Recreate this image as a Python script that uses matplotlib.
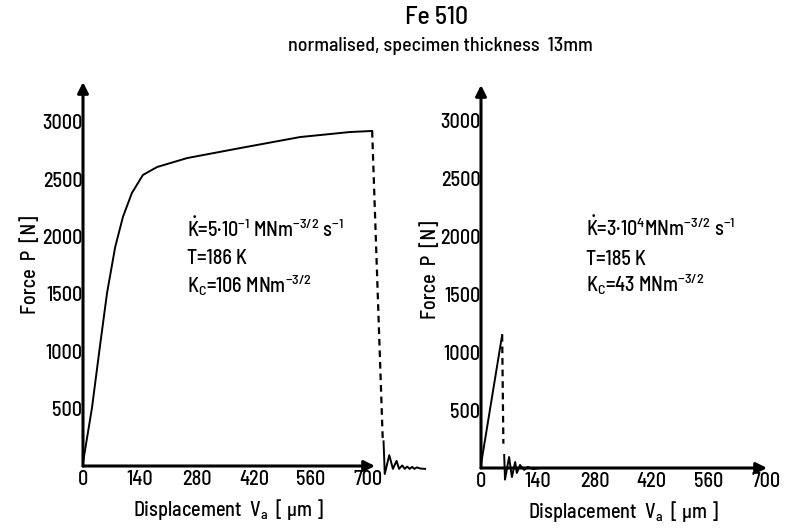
import matplotlib
matplotlib.use("Agg")
import matplotlib.pyplot as plt

FONT = "Barlow Semi Condensed"
plt.rcParams["font.family"] = [FONT, "DejaVu Sans"]
plt.rcParams["font.weight"] = 500
plt.rcParams["mathtext.fontset"] = "custom"
plt.rcParams["mathtext.rm"] = FONT + ":medium"
plt.rcParams["mathtext.it"] = FONT + ":medium"
plt.rcParams["mathtext.bf"] = FONT + ":medium"

# displacement in um, force in N
x_ticks = [0, 140, 280, 420, 560, 700]
y_ticks = [500, 1000, 1500, 2000, 2500, 3000]

left_disp = [0, 22, 42, 59, 79, 98, 120, 147, 182, 256, 386, 533, 656, 710]
left_force = [30, 506, 1055, 1508, 1909, 2171, 2380, 2537, 2607, 2685, 2772, 2868, 2912, 2921]
left_break_disp = [710, 736]
left_break_force = [2921, 230]
left_ring_disp = [738, 741, 752, 761, 770, 776, 784, 790, 796, 802, 808, 814, 820, 828, 840]
left_ring_force = [215, -70, 95, -25, 45, -25, 5, -25, -5, -25, -8, -25, -12, -22, -25]

right_disp = [0, 52]
right_force = [30, 1147]
right_break_disp = [52, 55]
right_break_force = [1147, 210]
right_ring_disp = [57, 59, 69, 76, 84, 88, 96, 106, 115, 128, 145, 177]
right_ring_force = [112, -100, 95, -78, 52, -43, 26, -17, 9, -9, 0, 0]

W, H = 787, 528
fig = plt.figure(figsize=(W / 100, H / 100), dpi=100)
FS = 14.5


def setup(ax, xmax, ymax):
    ax.set_xlim(0, xmax)
    ax.set_ylim(0, ymax)
    for s in ax.spines.values():
        s.set_visible(False)
    ax.set_xticks(x_ticks)
    ax.set_yticks(y_ticks)
    ax.tick_params(length=0, labelsize=FS)
    ax.tick_params(axis="y", pad=0.5)
    ax.tick_params(axis="x", pad=3)
    arrow = dict(arrowstyle="-|>", lw=2.2, color="k", mutation_scale=16, shrinkA=0, shrinkB=0)
    ax.annotate("", xy=(1, 0), xytext=(0, 0), xycoords="axes fraction",
                textcoords="axes fraction", arrowprops=arrow)
    ax.annotate("", xy=(0, 1), xytext=(0, 0), xycoords="axes fraction",
                textcoords="axes fraction", arrowprops=arrow)
    ax.patch.set_alpha(0)


ax1 = fig.add_axes([83 / W, 1 - 466 / H, (375 - 83) / W, (466 - 82) / H])
setup(ax1, 717, 3348)
ax1.plot(left_disp, left_force, color="k", lw=1.4, clip_on=False)
ax1.plot(left_break_disp, left_break_force, color="k", lw=1.6, dashes=(3, 2.2), clip_on=False)
ax1.plot(left_ring_disp, left_ring_force, color="k", lw=1.4, clip_on=False)

ax2 = fig.add_axes([481 / W, 1 - 468 / H, (767 - 481) / W, (468 - 85) / H])
setup(ax2, 703, 3302)
ax2.plot(right_disp, right_force, color="k", lw=1.4, clip_on=False)
ax2.plot(right_break_disp, right_break_force, color="k", lw=1.6, dashes=(3, 2.2), clip_on=False)
ax2.plot(right_ring_disp, right_ring_force, color="k", lw=1.4, clip_on=False)

# annotations
ax1.text(255, 1996, r"$\dot{K}$=5·10$^{-1}$ MNm$^{-3/2}$ s$^{-1}$", fontsize=FS, va="baseline")
ax1.text(255, 1760, "T=186 K", fontsize=FS, va="baseline")
ax1.text(255, 1515, r"K$_{\mathrm{C}}$=106 MNm$^{-3/2}$", fontsize=FS, va="baseline")

ax2.text(258, 2000, r"$\dot{K}$=3·10$^{4}$MNm$^{-3/2}$ s$^{-1}$", fontsize=FS, va="baseline")
ax2.text(258, 1750, "T=185 K", fontsize=FS, va="baseline")
ax2.text(258, 1520, r"K$_{\mathrm{C}}$=43 MNm$^{-3/2}$", fontsize=FS, va="baseline")

# axis labels
fig.text(30 / W, 1 - 265 / H, "Force  P  [N]", rotation=90, fontsize=FS, ha="center", va="center")
fig.text(430 / W, 1 - 270 / H, "Force  P  [N]", rotation=90, fontsize=FS, ha="center", va="center")
fig.text(228 / W, 1 - 510 / H, r"Displacement  V$_{\mathrm{a}}$  [ μm ]", fontsize=FS, ha="center", va="center")
fig.text(623 / W, 1 - 512 / H, r"Displacement  V$_{\mathrm{a}}$  [ μm ]", fontsize=FS, ha="center", va="center")

fig.text(437 / W, 1 - 17 / H, "Fe 510", fontsize=18.5, ha="center", va="center")
fig.text(440 / W, 1 - 46 / H, "normalised, specimen thickness  13mm", fontsize=14.3, ha="center", va="center")

fig.savefig("out.png", dpi=100)
